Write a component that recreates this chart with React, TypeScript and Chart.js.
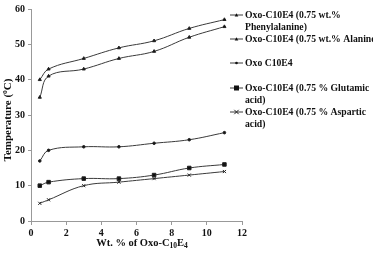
import React, { useEffect, useRef } from "react";
import { Chart, registerables } from "chart.js";

Chart.register(...registerables);

const xValues = [0.5, 1, 3, 5, 7, 9, 11];
const phenylalanine = [40, 43, 46, 49, 51, 54.5, 57];
const alanine = [35, 41, 43, 46, 48, 52, 55];
const oxoPlain = [17, 20, 21, 21, 22, 23, 25];
const glutamic = [10, 11, 12, 12, 13, 15, 16];
const aspartic = [5, 6, 10, 11, 12, 13, 14];

const legendLines: string[][] = [
  ["Oxo-C10E4 (0.75 wt.%", "Phenylalanine)"],
  ["Oxo-C10E4 (0.75 wt.% Alanine"],
  ["Oxo C10E4"],
  ["Oxo-C10E4 (0.75 % Glutamic", "acid)"],
  ["Oxo-C10E4 (0.75 % Aspartic", "acid)"],
];
const legendRows = [15, 39, 63, 88, 112];

const FONT = "'Liberation Serif', 'Times New Roman', serif";
const LINE = "#3a3a3a";

const series = [
  { label: "Phenylalanine", data: phenylalanine, style: "triangle", r: 1.8 },
  { label: "Alanine", data: alanine, style: "triangle", r: 1.8 },
  { label: "Oxo C10E4", data: oxoPlain, style: "circle", r: 1.3 },
  { label: "Glutamic", data: glutamic, style: "rect", r: 2.5 },
  { label: "Aspartic", data: aspartic, style: "crossRot", r: 2.2 },
];

function drawMarker(ctx: CanvasRenderingContext2D, style: string, r: number, x: number, y: number) {
  ctx.save();
  ctx.fillStyle = "#111";
  ctx.strokeStyle = "#222";
  ctx.lineWidth = 1;
  ctx.beginPath();
  if (style === "rect") {
    ctx.fillRect(x - r, y - r, r * 2, r * 2);
  } else if (style === "triangle") {
    ctx.moveTo(x, y - r);
    ctx.lineTo(x + r, y + r * 0.8);
    ctx.lineTo(x - r, y + r * 0.8);
    ctx.closePath();
    ctx.fill();
  } else if (style === "circle") {
    ctx.arc(x, y, r, 0, Math.PI * 2);
    ctx.fill();
  } else {
    ctx.moveTo(x - r, y - r);
    ctx.lineTo(x + r, y + r);
    ctx.moveTo(x + r, y - r);
    ctx.lineTo(x - r, y + r);
    ctx.stroke();
  }
  ctx.restore();
}

const annotations = {
  id: "annotations",
  afterDraw(chart: any) {
    const ctx = chart.ctx as CanvasRenderingContext2D;
    ctx.save();
    ctx.fillStyle = "#111";

    // y-axis title, with a raised "o" for degrees
    ctx.save();
    ctx.translate(8, 120);
    ctx.rotate(-Math.PI / 2);
    ctx.textBaseline = "middle";
    ctx.textAlign = "left";
    const yParts: [string, boolean][] = [
      ["Temperature (", false],
      ["o", true],
      ["C)", false],
    ];
    let yTotal = 0;
    for (const [t, sup] of yParts) {
      ctx.font = sup ? `bold 7.5px ${FONT}` : `bold 11px ${FONT}`;
      yTotal += ctx.measureText(t).width;
    }
    let sx = -yTotal / 2;
    for (const [t, sup] of yParts) {
      ctx.font = sup ? `bold 7.5px ${FONT}` : `bold 11px ${FONT}`;
      ctx.fillText(t, sx, sup ? -3 : 0);
      sx += ctx.measureText(t).width;
    }
    ctx.restore();

    // x-axis title with subscripts
    const parts: [string, boolean][] = [
      ["Wt. % of Oxo-C", false],
      ["10", true],
      ["E", false],
      ["4", true],
    ];
    let total = 0;
    for (const [t, sub] of parts) {
      ctx.font = sub ? `bold 7.5px ${FONT}` : `bold 10.5px ${FONT}`;
      total += ctx.measureText(t).width;
    }
    let px = 142 - total / 2;
    ctx.textAlign = "left";
    ctx.textBaseline = "middle";
    for (const [t, sub] of parts) {
      ctx.font = sub ? `bold 7.5px ${FONT}` : `bold 10.5px ${FONT}`;
      ctx.fillText(t, px, sub ? 246 : 243);
      px += ctx.measureText(t).width;
    }

    // legend
    ctx.font = `bold 9.7px ${FONT}`;
    ctx.textBaseline = "middle";
    ctx.textAlign = "left";
    series.forEach((s, i) => {
      const y = legendRows[i];
      ctx.strokeStyle = LINE;
      ctx.lineWidth = 1;
      ctx.beginPath();
      ctx.moveTo(230, y);
      ctx.lineTo(243, y);
      ctx.stroke();
      drawMarker(ctx, s.style, s.r, 236.5, y);
      ctx.fillStyle = "#111";
      legendLines[i].forEach((line, j) => {
        ctx.fillText(line, 245, y + j * 12);
      });
    });
    ctx.restore();
  },
};

export default function App() {
  const ref = useRef<HTMLCanvasElement>(null);

  useEffect(() => {
    document.body.style.margin = "0";
    const canvas = ref.current!;
    const chart = new Chart(canvas, {
      type: "line",
      data: {
        datasets: series.map((s) => ({
          label: s.label,
          data: s.data.map((v, i) => ({ x: xValues[i], y: v })),
          borderColor: LINE,
          borderWidth: 1,
          backgroundColor: "#111",
          pointBackgroundColor: "#111",
          pointBorderColor: "#222",
          pointBorderWidth: 1,
          pointStyle: s.style as any,
          pointRadius: s.r,
          tension: 0.4,
          fill: false,
        })),
      },
      options: {
        animation: false,
        responsive: false,
        layout: { padding: { top: 7, right: 131, left: 0, bottom: 0 } },
        plugins: { legend: { display: false }, tooltip: { enabled: false } },
        scales: {
          x: {
            type: "linear",
            min: 0,
            max: 12,
            ticks: {
              stepSize: 2,
              color: "#111",
              font: { family: FONT, size: 10, weight: "bold" },
              padding: 2,
            },
            grid: { drawOnChartArea: false, tickLength: 4, color: "#999" },
            border: { color: "#999" },
            afterFit: (scale: any) => {
              scale.height = 33;
            },
          },
          y: {
            min: 0,
            max: 60,
            ticks: {
              stepSize: 10,
              color: "#111",
              font: { family: FONT, size: 10, weight: "bold" },
              padding: 3,
            },
            grid: { drawOnChartArea: false, tickLength: 3, color: "#999" },
            border: { color: "#999" },
            afterFit: (scale: any) => {
              scale.width = 31;
            },
          },
        },
      },
      plugins: [annotations],
    });
    return () => chart.destroy();
  }, []);

  return (
    <div style={{ width: 373, height: 254, background: "#fff" }}>
      <canvas ref={ref} width={373} height={254} />
    </div>
  );
}
